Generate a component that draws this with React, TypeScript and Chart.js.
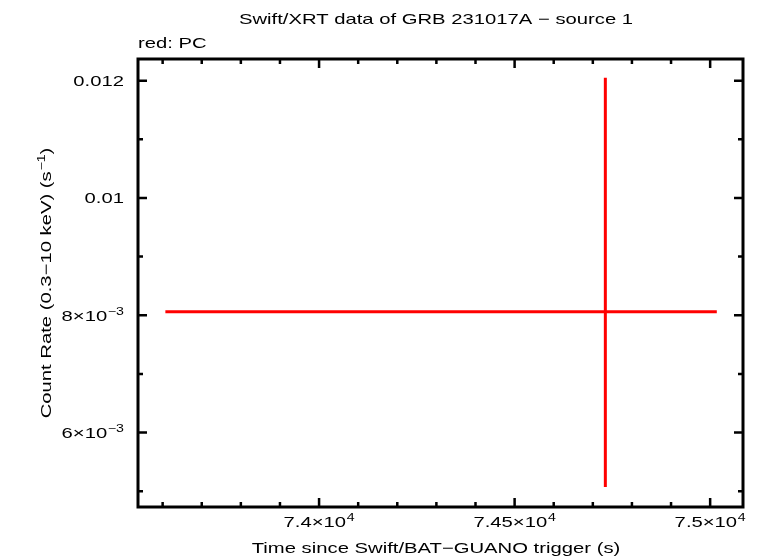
import React, { useEffect, useRef } from "react";
import { Chart, registerables } from "chart.js";

Chart.register(...registerables);

const TITLE = "Swift/XRT data of GRB 231017A − source 1";
const SUBTITLE = "red: PC";
const X_TITLE = "Time since Swift/BAT−GUANO trigger (s)";
const Y_TITLE = "Count Rate (0.3−10 keV) (s^−1)";

// PC mode data point (time in s since trigger, count rate in counts/s)
const pcTime = [74732];
const pcTimeLo = [73607];
const pcTimeHi = [75017];
const pcRate = [0.00806];
const pcRateLo = [0.00507];
const pcRateHi = [0.01205];

const xMin = 73537;
const xMax = 75084;
const yMin = 0.00473;
const yMax = 0.01237;

const xMajorTicks = [74000, 74500, 75000];
const xMajorLabels = ["7.4×10^4", "7.45×10^4", "7.5×10^4"];
const xMinorTicks = [73600, 73700, 73800, 73900, 74100, 74200, 74300, 74400, 74600, 74700, 74800, 74900];
const yMajorTicks = [0.006, 0.008, 0.01, 0.012];
const yMajorLabels = ["6×10^−3", "8×10^−3", "0.01", "0.012"];
const yMinorTicks = [0.005, 0.007, 0.009, 0.011];

const FONT_FAMILY = '"Liberation Sans", Arial, Helvetica, sans-serif';
const FONT_SIZE = 15;
const SUP_SIZE = 10.5;
const SUP_RAISE = 6;
const STRETCH = 1.35;

function splitRich(text: string) {
  const parts = text.split("^");
  const base = parts[0];
  let exp = "";
  let tail = "";
  if (parts.length > 1) {
    const m = parts[1].match(/^([^)]*)(.*)$/);
    exp = m ? m[1] : parts[1];
    tail = m ? m[2] : "";
  }
  return { base, exp, tail };
}

function measureRich(ctx: CanvasRenderingContext2D, text: string): number {
  const { base, exp, tail } = splitRich(text);
  ctx.font = `${FONT_SIZE}px ${FONT_FAMILY}`;
  let w = ctx.measureText(base).width + ctx.measureText(tail).width;
  if (exp) {
    ctx.font = `${SUP_SIZE}px ${FONT_FAMILY}`;
    w += ctx.measureText(exp).width + 0.5;
  }
  return w * STRETCH;
}

function drawRich(ctx: CanvasRenderingContext2D, text: string, x: number, y: number, align: "left" | "center" | "right") {
  const w = measureRich(ctx, text);
  let left = x;
  if (align === "center") left = x - w / 2;
  if (align === "right") left = x - w;
  const { base, exp, tail } = splitRich(text);
  ctx.save();
  ctx.translate(left, y);
  ctx.scale(STRETCH, 1);
  ctx.textAlign = "left";
  ctx.textBaseline = "alphabetic";
  ctx.font = `${FONT_SIZE}px ${FONT_FAMILY}`;
  ctx.fillText(base, 0, 0);
  let cx = ctx.measureText(base).width;
  if (exp) {
    cx += 0.5;
    ctx.font = `${SUP_SIZE}px ${FONT_FAMILY}`;
    ctx.fillText(exp, cx, -SUP_RAISE);
    cx += ctx.measureText(exp).width;
    ctx.font = `${FONT_SIZE}px ${FONT_FAMILY}`;
    ctx.fillText(tail, cx, 0);
  }
  ctx.restore();
}

const framePlugin = {
  id: "gnuplotFrame",
  afterDatasetsDraw(chart: any) {
    const ctx: CanvasRenderingContext2D = chart.ctx;
    const xs = chart.scales.x;
    const ys = chart.scales.y;
    const { left, right, top, bottom } = chart.chartArea;

    // error bars
    ctx.save();
    ctx.strokeStyle = "#ff0000";
    ctx.lineWidth = 3;
    ctx.lineCap = "butt";
    for (let i = 0; i < pcTime.length; i++) {
      const px = xs.getPixelForValue(pcTime[i]);
      const py = ys.getPixelForValue(pcRate[i]);
      ctx.beginPath();
      ctx.moveTo(xs.getPixelForValue(pcTimeLo[i]), py);
      ctx.lineTo(xs.getPixelForValue(pcTimeHi[i]), py);
      ctx.moveTo(px, ys.getPixelForValue(pcRateLo[i]));
      ctx.lineTo(px, ys.getPixelForValue(pcRateHi[i]));
      ctx.stroke();
    }
    ctx.restore();

    // frame
    ctx.save();
    ctx.strokeStyle = "#000";
    ctx.lineWidth = 3;
    ctx.strokeRect(left, top, right - left, bottom - top);

    // ticks
    ctx.lineWidth = 2.5;
    const drawX = (v: number, len: number) => {
      const p = xs.getPixelForValue(v);
      ctx.beginPath();
      ctx.moveTo(p, bottom);
      ctx.lineTo(p, bottom - len);
      ctx.moveTo(p, top);
      ctx.lineTo(p, top + len);
      ctx.stroke();
    };
    const drawY = (v: number, len: number) => {
      const p = ys.getPixelForValue(v);
      ctx.beginPath();
      ctx.moveTo(left, p);
      ctx.lineTo(left + len, p);
      ctx.moveTo(right, p);
      ctx.lineTo(right - len, p);
      ctx.stroke();
    };
    xMajorTicks.forEach((v) => drawX(v, 9));
    xMinorTicks.forEach((v) => drawX(v, 5));
    yMajorTicks.forEach((v) => drawY(v, 9));
    yMinorTicks.forEach((v) => drawY(v, 5));

    // tick labels
    ctx.fillStyle = "#000";
    xMajorTicks.forEach((v, i) => {
      drawRich(ctx, xMajorLabels[i], xs.getPixelForValue(v), bottom + 20, "center");
    });
    yMajorTicks.forEach((v, i) => {
      drawRich(ctx, yMajorLabels[i], left - 14, ys.getPixelForValue(v) + 5.5, "right");
    });

    // titles
    drawRich(ctx, TITLE, 436, 24, "center");
    drawRich(ctx, SUBTITLE, 138, 48, "left");
    drawRich(ctx, X_TITLE, 436, 553, "center");
    ctx.save();
    ctx.translate(51, 283);
    ctx.rotate(-Math.PI / 2);
    drawRich(ctx, Y_TITLE, 0, 0, "center");
    ctx.restore();
    ctx.restore();
  },
};

export default function App() {
  const canvasRef = useRef<HTMLCanvasElement | null>(null);

  useEffect(() => {
    const canvas = canvasRef.current;
    if (!canvas) return;
    const chart = new Chart(canvas, {
      type: "scatter",
      data: {
        datasets: [
          {
            label: "PC",
            data: pcTime.map((t, i) => ({ x: t, y: pcRate[i] })),
            pointRadius: 0,
            borderColor: "#ff0000",
            backgroundColor: "#ff0000",
          },
        ],
      },
      options: {
        responsive: false,
        animation: false,
        events: [],
        layout: { padding: { left: 138, top: 59, right: 18, bottom: 51 } },
        plugins: {
          legend: { display: false },
          title: { display: false },
          tooltip: { enabled: false },
        },
        scales: {
          x: { type: "linear", min: xMin, max: xMax, display: false },
          y: { type: "linear", min: yMin, max: yMax, display: false },
        },
      },
      plugins: [framePlugin],
    });
    return () => chart.destroy();
  }, []);

  return (
    <div style={{ position: "absolute", left: 0, top: 0, width: 761, height: 558, background: "#fff" }}>
      <canvas ref={canvasRef} width={761} height={558} style={{ width: 761, height: 558 }} />
    </div>
  );
}
